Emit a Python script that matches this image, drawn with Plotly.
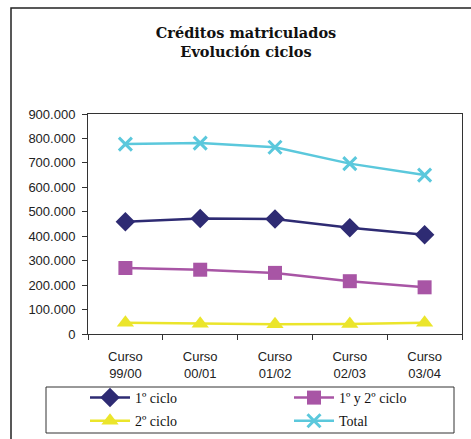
import plotly.graph_objects as go

categories = ["Curso<br>99/00", "Curso<br>00/01", "Curso<br>01/02", "Curso<br>02/03", "Curso<br>03/04"]
primer_ciclo = [459000, 472000, 470000, 435000, 406000]
primer_segundo = [270000, 263000, 250000, 216000, 191000]
segundo_ciclo = [46000, 42000, 40000, 41000, 46000]
total = [777000, 781000, 764000, 697000, 650000]
y_ticks = [0, 100000, 200000, 300000, 400000, 500000, 600000, 700000, 800000, 900000]

W, H = 471, 439
L, R, T, B = 88, 9, 114, 105
PW, PH = W - L - R, H - T - B

def px(x):
    return (x - L) / PW

def py(y):
    return (H - B - y) / PH

fig = go.Figure()
series = [
    ("1º ciclo", primer_ciclo, "#2E2B73", "diamond", 15, "legend"),
    ("1º y 2º ciclo", primer_segundo, "#A855A5", "square", 14, "legend2"),
    ("2º ciclo", segundo_ciclo, "#EBE52B", "triangle-up", 15, "legend"),
    ("Total", total, "#5BC8DC", "x-thin", 13, "legend2"),
]
for name, vals, color, sym, size, leg in series:
    marker = dict(symbol=sym, size=size, color=color)
    if sym == "x-thin":
        marker["line"] = dict(color=color, width=3)
    fig.add_trace(go.Scatter(
        x=categories, y=vals, name=name, mode="lines+markers",
        line=dict(color=color, width=2.5), marker=marker,
        legend=leg, legendgroup=name,
    ))

legend_common = dict(
    orientation="v", yanchor="top", xanchor="left",
    font=dict(family="Liberation Serif", size=14, color="#111111"),
    bgcolor="rgba(0,0,0,0)", tracegroupgap=2, itemwidth=40,
    borderwidth=0,
)
fig.update_layout(
    width=W, height=H,
    margin=dict(l=L, r=R, t=T, b=B, autoexpand=False),
    paper_bgcolor="white", plot_bgcolor="white",
    separators=",.",
    title=dict(
        text="<b>Créditos matriculados<br>Evolución ciclos</b>",
        x=px(246), xanchor="center", xref="paper",
        y=1 - 38 / H, yanchor="middle",
        font=dict(family="DejaVu Serif", size=14.5, color="#111111"),
    ),
    showlegend=True,
    legend=dict(x=px(85), y=py(382), **legend_common),
    legend2=dict(x=px(289), y=py(382), **legend_common),
    font=dict(family="Liberation Sans", size=13, color="#222222"),
)
fig.update_xaxes(
    type="category", showline=True, linecolor="#333333", linewidth=1, mirror=True,
    ticks="outside", ticklen=5, tickcolor="#333333", tickson="boundaries",
    showgrid=False, tickfont=dict(family="Liberation Sans", size=13, color="#222222"),
    range=[-0.5, 4.5], ticklabelstandoff=10,
)
fig.update_yaxes(
    range=[0, 900000], tickvals=y_ticks, tickformat=",d",
    showline=True, linecolor="#333333", linewidth=1, mirror=True,
    ticks="outside", ticklen=5, tickcolor="#333333",
    showgrid=False, zeroline=False, ticklabelstandoff=4,
    tickfont=dict(family="Liberation Sans", size=13, color="#222222"),
)
# outer chart frame
fig.add_shape(type="rect", xref="paper", yref="paper",
              x0=px(11), x1=px(520), y0=py(520), y1=py(8),
              line=dict(color="#222222", width=1.5), layer="below")
# legend frame
fig.add_shape(type="rect", xref="paper", yref="paper",
              x0=px(46), x1=px(454), y0=py(433), y1=py(387),
              line=dict(color="#333333", width=1), layer="below")

fig.write_html("out.html", config={"displayModeBar": False},
               post_script="document.body.style.margin='0';")
